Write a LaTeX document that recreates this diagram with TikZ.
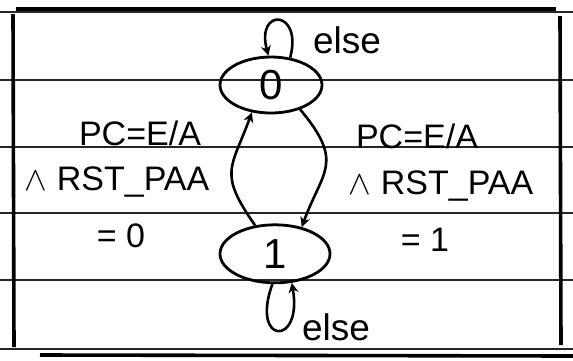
\RequirePackage{fix-cm}
\documentclass[tikz,border=0pt]{standalone}
\usepackage{fontspec}
\setmainfont{Liberation Sans}
\usepackage{tikz}
\usetikzlibrary{shapes.geometric, arrows.meta, positioning}
\tikzstyle{state} = [ellipse, draw=black, line width=2.8pt, inner sep=0pt,
    font={\fontsize{42}{42}\selectfont}]
\tikzstyle{cond} = [inner sep=0pt, font={\fontsize{34}{36}\selectfont}]
\tikzstyle{elselabel} = [inner sep=0pt, font={\fontsize{37}{37}\selectfont}]
\tikzstyle{arrow} = [line width=2.6pt, -{Stealth[length=10pt,width=10pt]}]
\tikzstyle{ruling} = [line width=1.6pt, black!85]
\tikzstyle{border} = [line width=3.6pt, black]

\begin{document}
\begin{tikzpicture}[x=1pt, y=1pt, node distance=109pt]
  \useasboundingbox (0,0) rectangle (573,-360);
  \foreach \yy in {12,80,147,213,280,349}
    \draw[ruling](0,-\yy)--(573,-\yy);
  \draw[border](16,-9)--(556,-9);
  \draw[border](40,-355)--(573,-356);
  \draw[border](13,-14)--(14,-347);
  \draw[border](560,-16)--(561,-345);

  \node[state, minimum width=102pt, minimum height=56pt](s0) at (271,-85){0};
  \node[state, minimum width=110pt, minimum height=58pt, below=of s0,
    xshift=4pt](s1){1};

  \node[elselabel](else0) at (347,-40){else};
  \node[elselabel](else1) at (336,-327){else};

  \node[cond](lpc) at (140,-133){PC=E/A};
  \node[cond](lrst) at (117,-182){$\wedge$ RST\_PAA};
  \node[cond](lval) at (121,-236){= 0};
  \node[cond](rpc) at (417,-136){PC=E/A};
  \node[cond](rrst) at (441,-186){$\wedge$ RST\_PAA};
  \node[cond](rval) at (425,-240){= 1};

  \draw[arrow](s0.55) .. controls +(75:50) and +(105:50) .. (s0.95);
  \draw[arrow](s1.-95) .. controls +(250:65) and +(-80:65) .. (s1.-60);
  \draw[arrow](s0.-40) .. controls +(-50:70) and +(70:60) .. (s1.45);
  \draw[arrow](s1.125) .. controls +(125:65) and +(-110:60) .. (s0.-125);
\end{tikzpicture}
\end{document}
